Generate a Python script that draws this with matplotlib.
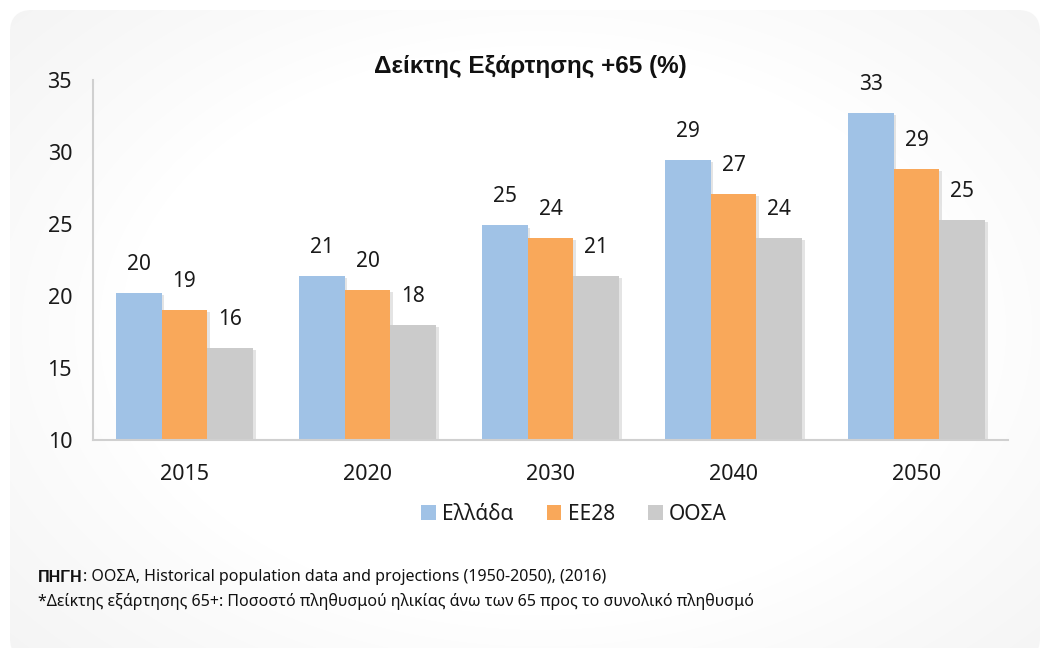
import numpy as np
import matplotlib
matplotlib.use("Agg")
import matplotlib.pyplot as plt
import matplotlib.patheffects as pe
from matplotlib.patches import FancyBboxPatch, Patch

plt.rcParams["font.family"] = ["Noto Sans", "DejaVu Sans"]
BOLD = ["Liberation Sans", "DejaVu Sans"]

# data
years = ["2015", "2020", "2030", "2040", "2050"]
greece = [20.2, 21.4, 24.9, 29.45, 32.7]
eu28 = [19.0, 20.4, 24.0, 27.1, 28.8]
oecd = [16.4, 18.0, 21.4, 24.0, 25.3]
series_names = ["Ελλάδα", "ΕΕ28", "ΟΟΣΑ"]
colors = ["#a0c2e6", "#f9a85a", "#cbcbcb"]
title = "Δείκτης Εξάρτησης +65 (%)"
source_bold = "ΠΗΓΗ"
source_rest = ": ΟΟΣΑ, Historical population data and projections (1950-2050), (2016)"
note = "*Δείκτης εξάρτησης 65+: Ποσοστό πληθυσμού ηλικίας άνω των 65 προς το συνολικό πληθυσμό"

W, H = 1046, 648
fig = plt.figure(figsize=(W / 100, H / 100), dpi=100)
fig.patch.set_facecolor("white")

# rounded card with soft grey gradient towards the corners
bg = fig.add_axes([0, 0, 1, 1], zorder=-10)
bg.set_xlim(0, W)
bg.set_ylim(H, 0)
bg.axis("off")
yy, xx = np.mgrid[0:H, 0:W]
d = np.sqrt(((xx - 540) / 560) ** 2 + ((yy - 330) / 380) ** 2)
shade = 1.0 - 0.075 * np.clip(d - 0.75, 0, None) ** 0.9
img = bg.imshow(np.dstack([shade] * 3), extent=(0, W, H, 0), interpolation="bilinear")
card = FancyBboxPatch((10, 10), 1030, 650, boxstyle="round,pad=0,rounding_size=22",
                      transform=bg.transData, facecolor="none", edgecolor="none")
bg.add_patch(card)
img.set_clip_path(card)

ax = fig.add_axes([93 / W, 1 - 440 / H, (1008 - 93) / W, (440 - 80) / H])
ax.patch.set_alpha(0)
x = np.arange(len(years))
width = 0.25
shadow = [pe.SimplePatchShadow(offset=(2, -1.5), shadow_rgbFace="#888888", alpha=0.22), pe.Normal()]
for i, (vals, c, name) in enumerate(zip([greece, eu28, oecd], colors, series_names)):
    bars = ax.bar(x + (i - 1) * width, vals, width, color=c, label=name, zorder=2)
    for b in bars:
        b.set_path_effects(shadow)
    for xi, v in zip(x + (i - 1) * width, vals):
        ax.annotate(f"{v:.0f}", (xi, v), xytext=(0, 13), textcoords="offset points",
                    ha="center", va="bottom", fontsize=15, color="#1a1a1a")

ax.set_xlim(-0.5, len(years) - 0.5)
ax.set_ylim(10, 35)
ax.set_yticks([10, 15, 20, 25, 30, 35])
ax.set_xticks(x)
ax.set_xticklabels(years)
ax.tick_params(axis="both", length=0, labelsize=15.5, colors="#1a1a1a")
ax.tick_params(axis="y", pad=15)
ax.tick_params(axis="x", pad=17)
for s in ["top", "right"]:
    ax.spines[s].set_visible(False)
for s in ["left", "bottom"]:
    ax.spines[s].set_color("#d0d0d0")
    ax.spines[s].set_linewidth(1.5)

fig.text(530 / W, 1 - 66 / H, title, ha="center", va="center", family=BOLD,
         fontsize=17.5, fontweight="bold", color="#111111")

handles = [Patch(facecolor=c, edgecolor="none") for c in colors]
fig.legend(handles, series_names, loc="center", bbox_to_anchor=(574 / W, 1 - 514 / H),
           ncol=3, frameon=False, fontsize=15, handlelength=0.7, handleheight=0.7,
           handletextpad=0.3, columnspacing=1.6, labelcolor="#1a1a1a")

t = fig.text(38 / W, 1 - 577 / H, source_bold, ha="left", va="center", family=BOLD,
             fontsize=11.5, fontweight="bold", color="#111111")
fig.canvas.draw()
bb = t.get_window_extent()
fig.text(bb.x1 / W, 1 - 577 / H, source_rest, ha="left", va="center",
         fontsize=11.5, color="#111111")
fig.text(38 / W, 1 - 601 / H, note, ha="left", va="center", fontsize=11.5, color="#111111")

fig.savefig("out.png", dpi=100)
